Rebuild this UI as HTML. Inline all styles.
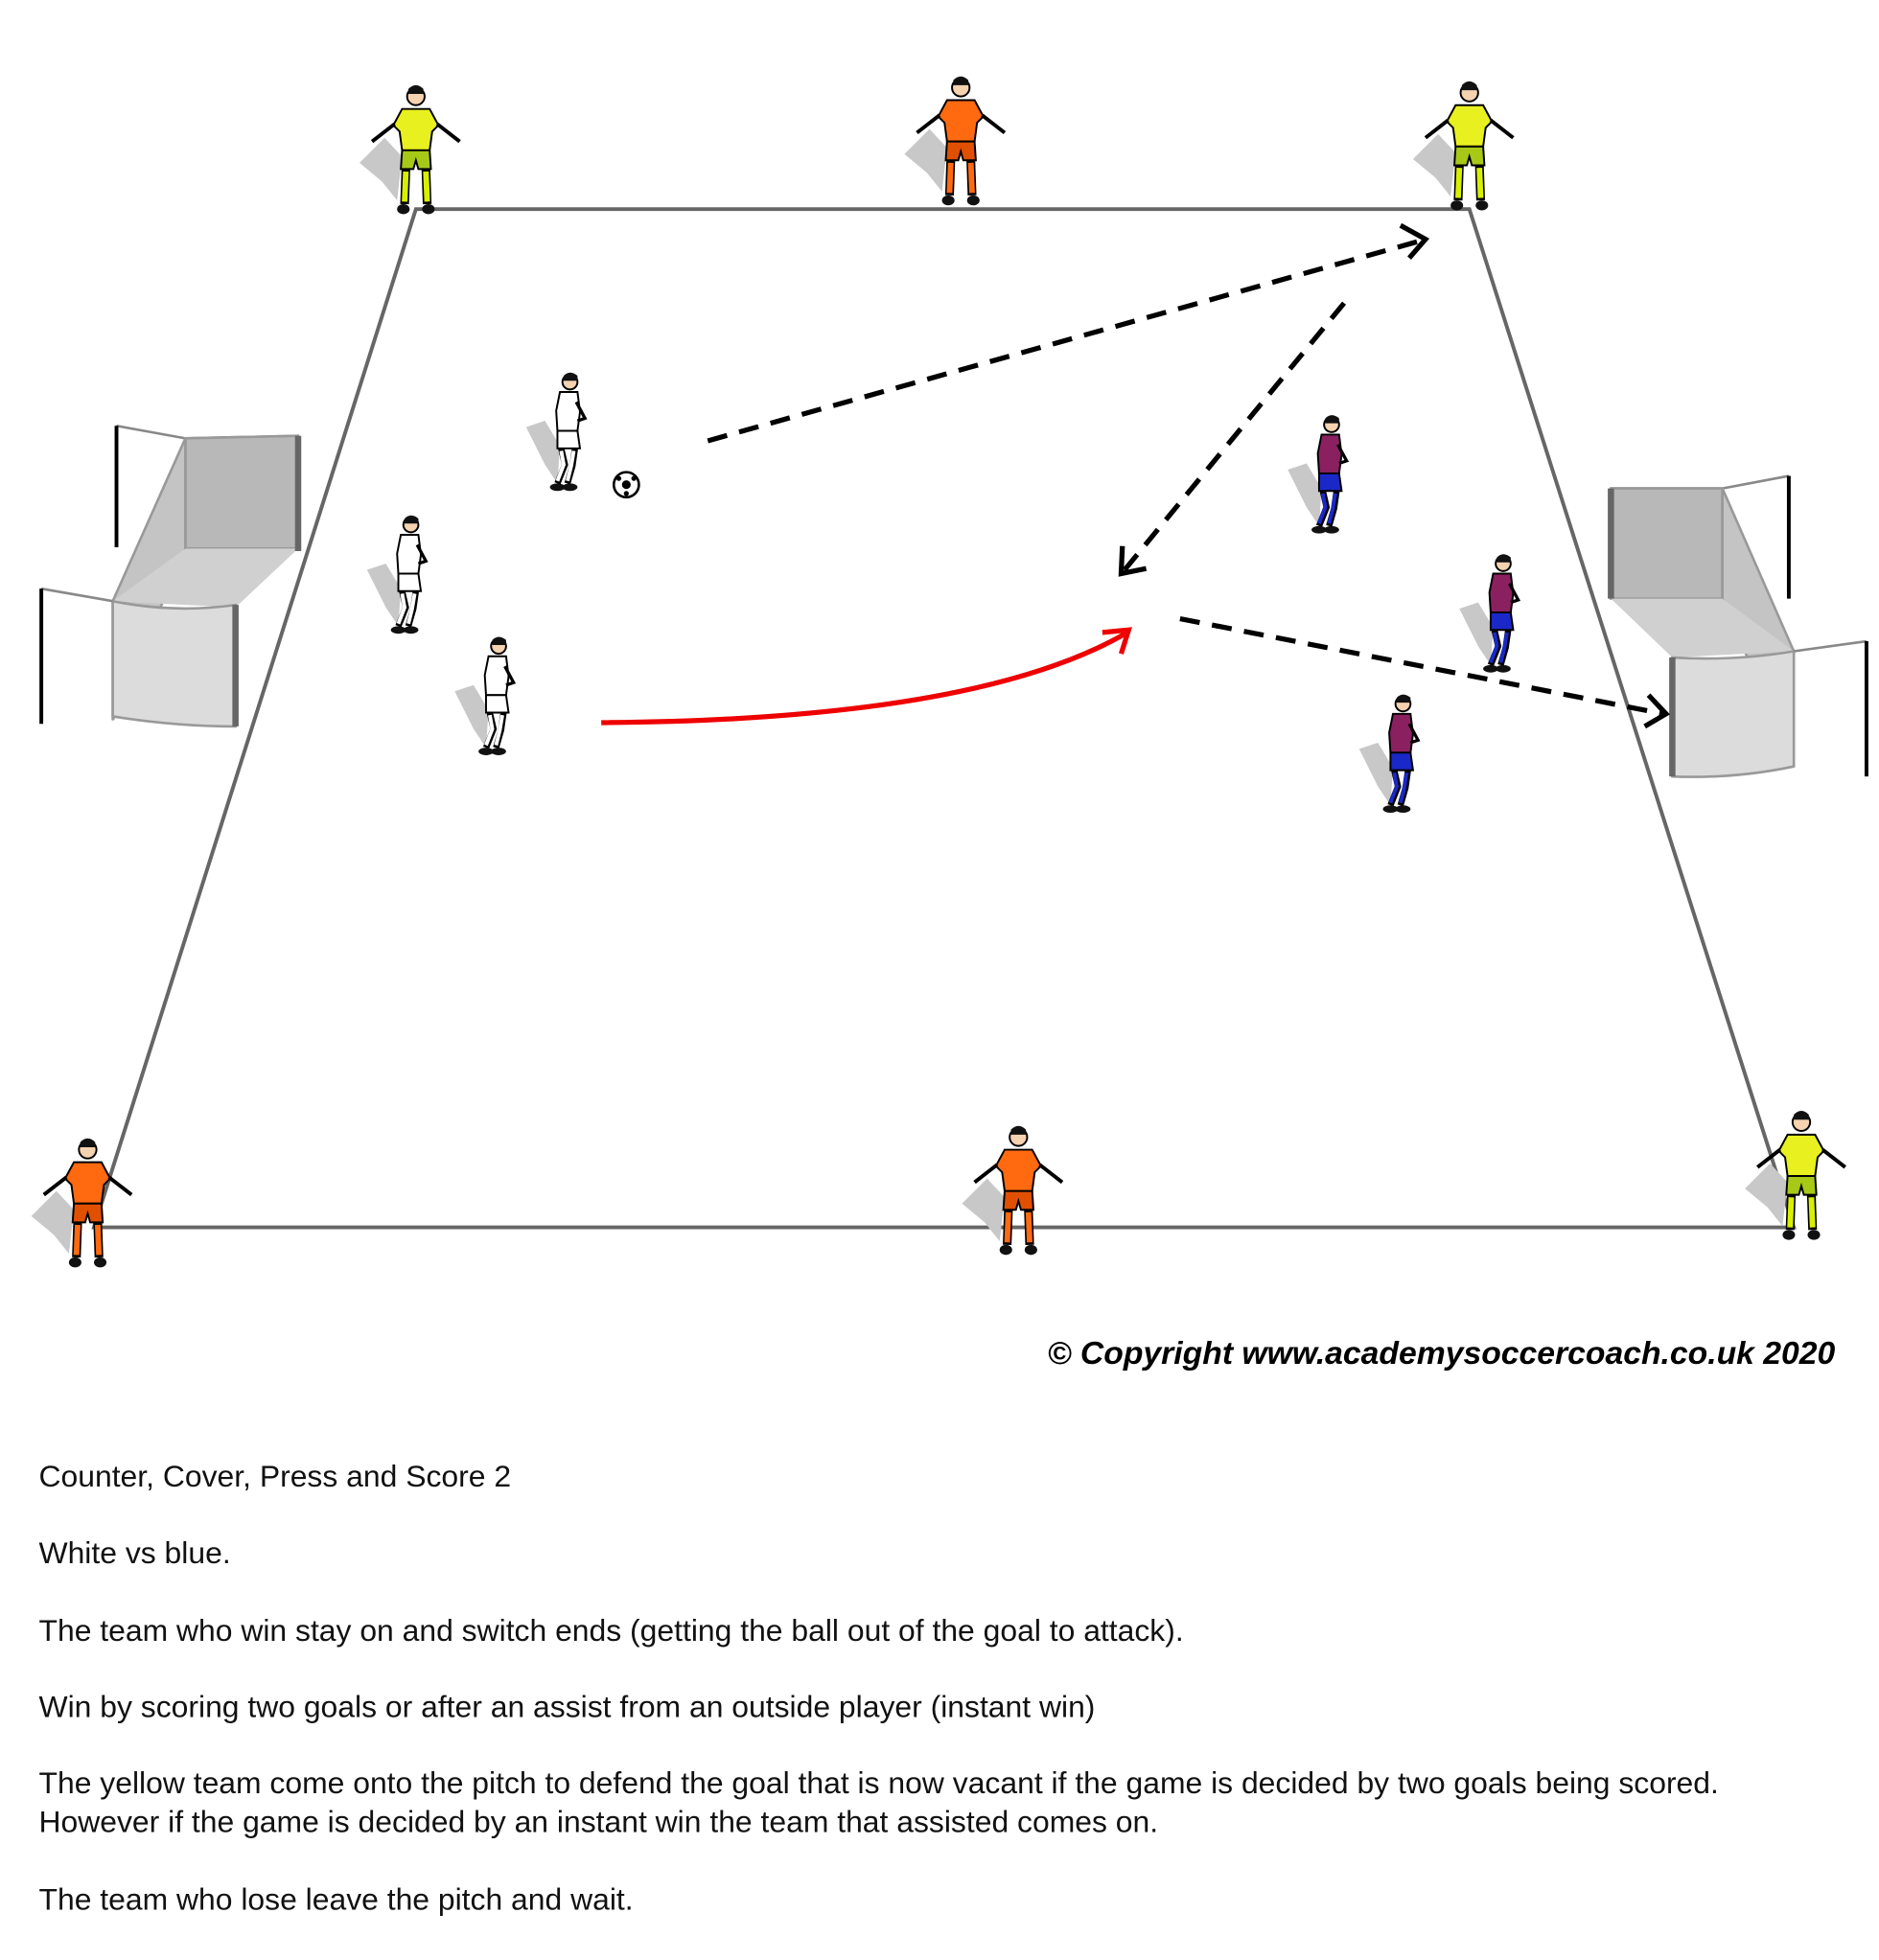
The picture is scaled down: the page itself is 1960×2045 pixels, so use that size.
<!DOCTYPE html>
<html><head><meta charset="utf-8"><style>
html,body{margin:0;padding:0;background:#fff;width:1960px;height:2045px;overflow:hidden}
svg{display:block}
</style></head><body>
<svg width="1960" height="2045" viewBox="0 0 1500 1565" preserveAspectRatio="none" xmlns="http://www.w3.org/2000/svg">
<defs>
<symbol id="gk" viewBox="0 0 90 110" overflow="visible">
 <path d="M0 65 L20 45 L34 60 L30 95 L18 80 Z" fill="#c8c8c8"/>
 <circle cx="45" cy="12" r="7" fill="currentColor" stroke="#000" stroke-width="1.5"/>
 <path d="M39 6 Q45 0 51 6 L51 10 L39 10 Z" fill="#111"/>
 <path d="M34 22 L56 22 L63 35 L58 40 L56 55 L34 55 L32 40 L27 35 Z" fill="var(--s)" stroke="#000" stroke-width="1.5"/>
 <path d="M28 34 L10 48 M62 34 L80 48" stroke="#000" stroke-width="3"/>
 <path d="M34 55 L56 55 L57 70 L47 70 L45 63 L43 70 L33 70 Z" fill="var(--p)" stroke="#000" stroke-width="1.5"/>
 <path d="M37 70 L36 98 M53 70 L54 98" stroke="#000" stroke-width="7"/>
 <path d="M37 72 L36 96 M53 72 L54 96" stroke="var(--k)" stroke-width="4.5"/>
 <ellipse cx="35" cy="102" rx="5" ry="4" fill="#111"/><ellipse cx="55" cy="102" rx="5" ry="4" fill="#111"/>
</symbol>
<symbol id="fp" viewBox="0 0 70 100" overflow="visible">
 <path d="M5 45 L20 40 L32 60 L30 90 L20 75 Z" fill="#c8c8c8"/>
 <circle cx="40" cy="9" r="6" fill="#f5d2b0" stroke="#000" stroke-width="1.5"/>
 <path d="M35 4 Q40 -1 46 4 L46 8 L35 8 Z" fill="#111"/>
 <path d="M32 17 L46 17 L48 33 L46 48 L30 48 L29 32 Z" fill="var(--s)" stroke="#000" stroke-width="1.5"/>
 <path d="M45 25 L52 38 L46 40" stroke="#000" stroke-width="2.5" fill="none"/>
 <path d="M30 48 L46 48 L48 62 L30 62 Z" fill="var(--p)" stroke="#000" stroke-width="1.5"/>
 <path d="M33 62 L36 75 L30 90 M44 62 L42 76 L38 90" stroke="#000" stroke-width="5" fill="none"/>
 <path d="M33 64 L35 75 L30 88 M43 64 L41 76 L38 88" stroke="var(--k)" stroke-width="3" fill="none"/>
 <ellipse cx="30" cy="93" rx="6" ry="3" fill="#111"/><ellipse cx="40" cy="93" rx="6" ry="3" fill="#111"/>
</symbol>
</defs>

<g>
 <path d="M93 340 L148 350 L238 348" stroke="#888" stroke-width="2" fill="none"/>
 <path d="M148 350 L238 348 L238 438 L148 438 Z" fill="#b8b8b8" stroke="#999" stroke-width="2"/>
 <path d="M90 480 L148 350 L148 438 L90 575 Z" fill="#c4c4c4" stroke="#999" stroke-width="2"/>
 <path d="M148 438 L238 438 L188 485 L90 480 Z" fill="#d0d0d0"/>
 <path d="M90 480 Q140 490 188 483 L188 580 Q140 580 90 572 Z" fill="#dcdcdc" stroke="#999" stroke-width="2"/>
 <path d="M33 470 L90 480" stroke="#888" stroke-width="2"/>
 <line x1="93" y1="340" x2="93" y2="437" stroke="#000" stroke-width="3"/>
 <line x1="33" y1="470" x2="33" y2="578" stroke="#000" stroke-width="3"/>
 <line x1="188" y1="483" x2="188" y2="580" stroke="#666" stroke-width="5"/>
 <line x1="238" y1="348" x2="238" y2="440" stroke="#666" stroke-width="5"/>
</g>
<g>
 <path d="M1428 380 L1375 390 L1286 390" stroke="#888" stroke-width="2" fill="none"/>
 <path d="M1286 390 L1375 390 L1375 478 L1286 478 Z" fill="#b8b8b8" stroke="#999" stroke-width="2"/>
 <path d="M1375 390 L1432 520 L1432 612 L1375 478 Z" fill="#c4c4c4" stroke="#999" stroke-width="2"/>
 <path d="M1286 478 L1375 478 L1432 520 L1335 525 Z" fill="#d0d0d0"/>
 <path d="M1335 525 Q1385 528 1432 520 L1432 612 Q1385 622 1335 620 Z" fill="#dcdcdc" stroke="#999" stroke-width="2"/>
 <path d="M1432 520 L1490 512" stroke="#888" stroke-width="2"/>
 <line x1="1428" y1="380" x2="1428" y2="478" stroke="#000" stroke-width="3"/>
 <line x1="1490" y1="512" x2="1490" y2="620" stroke="#000" stroke-width="3"/>
 <line x1="1335" y1="525" x2="1335" y2="620" stroke="#666" stroke-width="5"/>
 <line x1="1286" y1="390" x2="1286" y2="478" stroke="#666" stroke-width="5"/>
</g>

<path d="M332 167 L1173 167 L1432 980 L75 980 Z" fill="none" stroke="#666" stroke-width="3"/>

<g stroke="#000" stroke-width="4" fill="none" stroke-dasharray="16,10">
 <line x1="565" y1="352" x2="1135" y2="192"/>
 <line x1="1073" y1="242" x2="897" y2="456"/>
 <line x1="942" y1="494" x2="1328" y2="570"/>
</g>
<g stroke="#000" stroke-width="4" fill="none">
 <path d="M1118 180 L1138 191 L1125 206"/>
 <path d="M896 436 L895 458 L915 454"/>
 <path d="M1316 555 L1330 570 L1313 580"/>
</g>
<path d="M480 577 Q780 575 900 505" stroke="#e00" stroke-width="4" fill="none"/>
<path d="M880 505 L901 503 L895 522" stroke="#e00" stroke-width="4" fill="none"/>

<circle cx="500" cy="387" r="10" fill="#fff" stroke="#000" stroke-width="2"/>
<circle cx="500" cy="387" r="3.5" fill="#000"/><circle cx="494" cy="382" r="2" fill="#000"/><circle cx="506" cy="382" r="2" fill="#000"/><circle cx="500" cy="394" r="2" fill="#000"/>

<use href="#gk" x="287" y="65" width="90" height="110" style="--s:#e8f020;--p:#a8c818;--k:#d8f000;color:#f5d2b0"/>
<use href="#gk" x="722" y="58" width="90" height="110" style="--s:#ff6a10;--p:#e05000;--k:#ff6a10;color:#f5d2b0"/>
<use href="#gk" x="1128" y="62" width="90" height="110" style="--s:#e8f020;--p:#a8c818;--k:#d8f000;color:#f5d2b0"/>
<use href="#gk" x="25" y="906" width="90" height="110" style="--s:#ff6a10;--p:#e05000;--k:#ff6a10;color:#f5d2b0"/>
<use href="#gk" x="768" y="896" width="90" height="110" style="--s:#ff6a10;--p:#e05000;--k:#ff6a10;color:#f5d2b0"/>
<use href="#gk" x="1393" y="884" width="90" height="110" style="--s:#e8f020;--p:#a8c818;--k:#d8f000;color:#f5d2b0"/>

<use href="#fp" x="415" y="296" width="70" height="100" style="--s:#fff;--p:#fff;--k:#fff"/>
<use href="#fp" x="288" y="410" width="70" height="100" style="--s:#fff;--p:#fff;--k:#fff"/>
<use href="#fp" x="358" y="507" width="70" height="100" style="--s:#fff;--p:#fff;--k:#fff"/>
<use href="#fp" x="1023" y="330" width="70" height="100" style="--s:#8a2060;--p:#1a28c8;--k:#1a28c8"/>
<use href="#fp" x="1160" y="441" width="70" height="100" style="--s:#8a2060;--p:#1a28c8;--k:#1a28c8"/>
<use href="#fp" x="1080" y="553" width="70" height="100" style="--s:#8a2060;--p:#1a28c8;--k:#1a28c8"/>

<text x="1465" y="1089" text-anchor="end" font-family="Liberation Sans, sans-serif" font-size="25.8" font-weight="bold" font-style="italic" fill="#000">© Copyright www.academysoccercoach.co.uk 2020</text>
<g font-family="Liberation Sans, sans-serif" font-size="24.4" fill="#111">
 <text x="31" y="1187">Counter, Cover, Press and Score 2</text>
 <text x="31" y="1248">White vs blue.</text>
 <text x="31" y="1310">The team who win stay on and switch ends (getting the ball out of the goal to attack).</text>
 <text x="31" y="1371">Win by scoring two goals or after an assist from an outside player (instant win)</text>
 <text x="31" y="1432">The yellow team come onto the pitch to defend the goal that is now vacant if the game is decided by two goals being scored.</text>
 <text x="31" y="1463">However if the game is decided by an instant win the team that assisted comes on.</text>
 <text x="31" y="1525">The team who lose leave the pitch and wait.</text>
</g>
</svg>
</body></html>
